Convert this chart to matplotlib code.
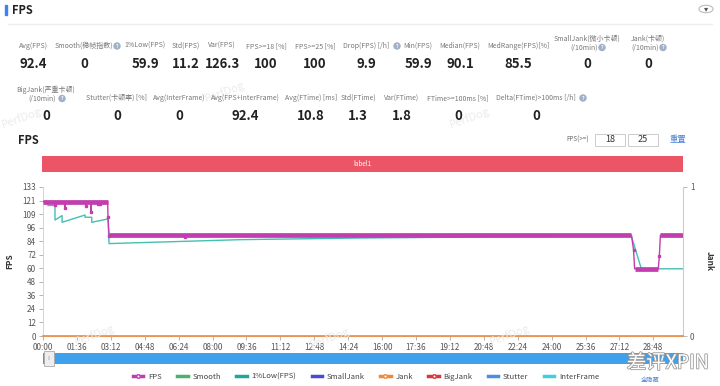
import matplotlib
matplotlib.use("Agg")
import matplotlib.pyplot as plt
from matplotlib.lines import Line2D
from matplotlib.patches import Rectangle, Circle
import matplotlib.patheffects as pe

plt.rcParams['font.family'] = ['Noto Sans CJK SC', 'DejaVu Sans']

# --- data ---------------------------------------------------------------
row1_labels = ['Avg(FPS)', 'Smooth(稳帧指数)', '1%Low(FPS)', 'Std(FPS)', 'Var(FPS)',
               'FPS>=18 [%]', 'FPS>=25 [%]', 'Drop(FPS) [/h]', 'Min(FPS)', 'Median(FPS)',
               'MedRange(FPS)[%]', 'SmallJank(微小卡顿)\n(/10min)', 'Jank(卡顿)\n(/10min)']
row1_values = ['92.4', '0', '59.9', '11.2', '126.3', '100', '100', '9.9', '59.9', '90.1',
               '85.5', '0', '0']

row2_labels = ['BigJank(严重卡顿)\n(/10min)', 'Stutter(卡顿率) [%]', 'Avg(InterFrame)',
               'Avg(FPS+InterFrame)', 'Avg(FTime) [ms]', 'Std(FTime)', 'Var(FTime)',
               'FTime>=100ms [%]', 'Delta(FTime)>100ms [/h]']
row2_values = ['0', '0', '0', '92.4', '10.8', '1.3', '1.8', '0', '0']

# FPS over time (seconds, fps)
fps_t = [0, 33, 34, 35, 61, 62, 63, 120, 121, 122, 135, 136, 137, 154, 155, 156,
         160, 161, 162, 183, 184, 187, 400, 401, 402, 1666, 1672, 1675, 1742, 1745,
         1748, 1812]
fps_v = [120, 120, 117, 120, 120, 114, 120, 120, 116, 120, 120, 110.5, 120, 120, 118, 120,
         120, 118, 120, 120, 106.5, 90, 90, 88, 90, 90, 77, 60, 60, 71,
         90, 90]
fps_dips_t = [34, 62, 121, 136, 155, 161, 184, 187, 401, 1672, 1745]
fps_dips_v = [117, 114, 116, 110.5, 118, 118, 106.5, 89, 88, 77, 71]
# steady FPS plateaus (start s, end s, fps)
plateau_start = [0, 187, 1675, 1748]
plateau_end = [184, 1666, 1742, 1812]
plateau_fps = [120, 90, 60, 90]

low_t = [0, 14, 14, 34, 34, 54, 54, 119, 119, 138, 138, 184, 187, 560, 900, 1300, 1666,
         1694, 1812]
low_v = [120, 120, 116.5, 116.5, 103.5, 107.5, 101.5, 108, 106, 106, 101.5, 104.5, 82.5,
         86, 87.5, 88.5, 89, 60, 60]

jank_t = [0, 1812]
jank_v = [0, 0]

tick_labels = ['00:00', '01:36', '03:12', '04:48', '06:24', '08:00', '09:36', '11:12',
               '12:48', '14:24', '16:00', '17:36', '19:12', '20:48', '22:24', '24:00',
               '25:36', '27:12', '28:48']
y_ticks = [0, 12.09, 24.18, 36.27, 48.36, 60.45, 72.55, 84.64, 96.73, 108.82, 120.91, 133]
y_tick_labels = ['0', '12', '24', '36', '48', '60', '72', '84', '96', '109', '121', '133']

legend_names = ['FPS', 'Smooth', '1%Low(FPS)', 'SmallJank', 'Jank', 'BigJank', 'Stutter',
                'InterFrame']
legend_colors = ['#c23dae', '#4cb070', '#1fa89a', '#4a4ad6', '#ee8a3c', '#d9383a',
                 '#4a90e2', '#3fd0e0']
legend_marker = [True, False, False, False, True, True, False, False]

W, H = 720, 386


def P(x, y):
    return x / W, 1 - y / H


fig = plt.figure(figsize=(7.2, 3.86), dpi=100)
fig.patch.set_facecolor('white')

# --- header ------------------------------------------------------------
fig.patches.append(Rectangle(P(5, 15), 2 / W, 10 / H, transform=fig.transFigure,
                             color='#3b82f6'))
fig.text(*P(12, 10), 'FPS', fontsize=8, fontweight='bold', va='center', color='#222')
fig.lines.append(Line2D([8 / W, 712 / W], [1 - 24 / H] * 2, transform=fig.transFigure,
                        color='#eeeeee', lw=1))
fig.patches.append(Circle(P(706, 9), 7 / W, transform=fig.transFigure, fill=False,
                          ec='#bbbbbb', lw=0.8))
fig.text(*P(706, 9), '▾', fontsize=6, ha='center', va='center', color='#555',
         family=['DejaVu Sans'])


def metric(xc, ylab, yval, label, value, dx2=0):
    lines = label.split('\n')
    for k, ln in enumerate(lines):
        fig.text(*P(xc + (dx2 if k > 0 else 0), ylab + 8.5 * k), ln, fontsize=5,
                 color='#777', ha='center', va='center')
    fig.text(*P(xc, yval), value, fontsize=9.5, fontweight='bold', color='#222',
             ha='center', va='center')


def helpicon(x, y):
    fig.text(*P(x, y), '?', fontsize=3.5, color='white', ha='center', va='center',
             fontweight='bold', bbox=dict(boxstyle='circle,pad=0.25', fc='#9fb0c8', ec='none'))


row1_x = [33, 84, 145, 186, 222, 266, 315, 366, 418, 460, 518, 587, 648]
row1_ylab = [46] * 11 + [39, 39]
row1_dx2 = [0] * 11 + [-3, -3]
for i in range(len(row1_labels)):
    metric(row1_x[i], row1_ylab[i], 64, row1_labels[i], row1_values[i], row1_dx2[i])

row2_x = [46, 117, 179, 245, 311, 358, 402, 458, 536]
row2_ylab = [90] + [98] * 8
row2_dx2 = [-4] + [0] * 8
for i in range(len(row2_labels)):
    metric(row2_x[i], row2_ylab[i], 116, row2_labels[i], row2_values[i], row2_dx2[i])

for hx, hy in [(117, 46), (397, 46), (602, 47.5), (663, 47.5), (62, 98.5), (583, 98)]:
    helpicon(hx, hy)

# watermarks
for (wx, wy) in [(22, 118), (225, 92), (470, 118), (510, 335), (330, 338), (95, 335)]:
    fig.text(*P(wx, wy), 'PerfDog', fontsize=8, color='#ebebeb', rotation=20,
             ha='center', va='center', zorder=0)

# --- chart header ------------------------------------------------------
fig.text(*P(18, 141), 'FPS', fontsize=8, fontweight='bold', color='#222', va='center')
fig.text(*P(566, 140), 'FPS(>=)', fontsize=4.5, color='#666', va='center')
for bx, val in [(595, '18'), (628, '25')]:
    fig.patches.append(Rectangle(P(bx, 146), 30 / W, 12 / H, transform=fig.transFigure,
                                 fc='white', ec='#cccccc', lw=0.7))
    fig.text(*P(bx + 15, 140), val, fontsize=6.5, color='#333', ha='center', va='center')
fig.text(*P(670, 140), '重置', fontsize=6, color='#4a7fd8', va='center')

fig.patches.append(Rectangle(P(42, 172), 641 / W, 16 / H, transform=fig.transFigure,
                             color='#ec5566', lw=0))
fig.text(*P(362, 164), 'label1', fontsize=4.5, color='white', ha='center', va='center')

# --- main chart --------------------------------------------------------
ax = fig.add_axes([43 / W, 1 - 336 / H, 640 / W, 149 / H])
ax.set_xlim(0, 1812)
ax.set_ylim(0, 133)
ax.plot(low_t, low_v, color='#45bfb4', lw=1.0, zorder=2)
ax.hlines(plateau_fps, plateau_start, plateau_end, color='#c23dae', lw=3.4, zorder=3)
ax.plot(fps_t, fps_v, color='#c23dae', lw=1.0, zorder=3)
ax.plot(fps_dips_t, fps_dips_v, 's', color='#c23dae', ms=1.8, zorder=4)

tick_pos = [int(s.split(':')[0]) * 60 + int(s.split(':')[1]) for s in tick_labels]
ax.set_xticks(tick_pos)
ax.set_xticklabels(tick_labels)
ax.set_yticks(y_ticks)
ax.set_yticklabels(y_tick_labels)
ax.tick_params(axis='both', colors='#aaaaaa', labelcolor='#555555', labelsize=5.8,
               length=3, width=0.6, pad=2)
ax.set_ylabel('FPS', fontsize=6, fontweight='bold', color='#333', labelpad=6)
for s in ['top', 'right']:
    ax.spines[s].set_visible(False)
ax.spines['left'].set_color('#cccccc')
ax.spines['bottom'].set_color('#cccccc')
ax.spines['left'].set_linewidth(0.6)

ax2 = ax.twinx()
ax2.set_ylim(0, 1)
ax2.set_yticks([0, 1])
ax2.set_yticklabels(['0', '1'])
ax2.plot(jank_t, jank_v, color='#ee8a3c', lw=1.2, clip_on=False, zorder=5)
ax2.tick_params(axis='y', colors='#aaaaaa', labelcolor='#555555', labelsize=5.8,
                length=3, width=0.6, pad=2)
ax2.set_ylabel('Jank', fontsize=6, fontweight='bold', color='#333', rotation=270,
               labelpad=14)
for s in ['top', 'left', 'bottom']:
    ax2.spines[s].set_visible(False)
ax2.spines['right'].set_color('#cccccc')
ax2.spines['right'].set_linewidth(0.8)

# --- scroll bar ----------------------------------------------------------
fig.patches.append(Rectangle(P(43, 364), 640 / W, 11 / H, transform=fig.transFigure,
                             color='#3fa0ec', lw=0))
fig.patches.append(Rectangle(P(44, 366), 10 / W, 15 / H, transform=fig.transFigure,
                             fc='#eeeeee', ec='#aaaaaa', lw=0.6, zorder=5))
fig.text(*P(49, 358), '|||', fontsize=3, color='#888', ha='center', va='center', zorder=6)

# --- legend --------------------------------------------------------------
handles = []
for name, col, mk in zip(legend_names, legend_colors, legend_marker):
    handles.append(Line2D([], [], color=col, lw=2.5,
                          marker='o' if mk else None, ms=2.5, mfc='white', mec=col))
fig.legend(handles, legend_names, loc='center', bbox_to_anchor=P(366, 377), ncol=8,
           frameon=False, fontsize=5.5, handlelength=1.4, handletextpad=0.6,
           columnspacing=2.0, labelcolor='#444')

fig.text(*P(650, 380), '全隐藏', fontsize=4.5, color='#4a7fd8', ha='center', va='center')
fig.text(*P(668, 363), '差评XPIN', fontsize=14, color='white', ha='center', va='center',
         path_effects=[pe.withStroke(linewidth=1.2, foreground='#9a9a9a')], zorder=10)

fig.savefig('out.png', dpi=100)
